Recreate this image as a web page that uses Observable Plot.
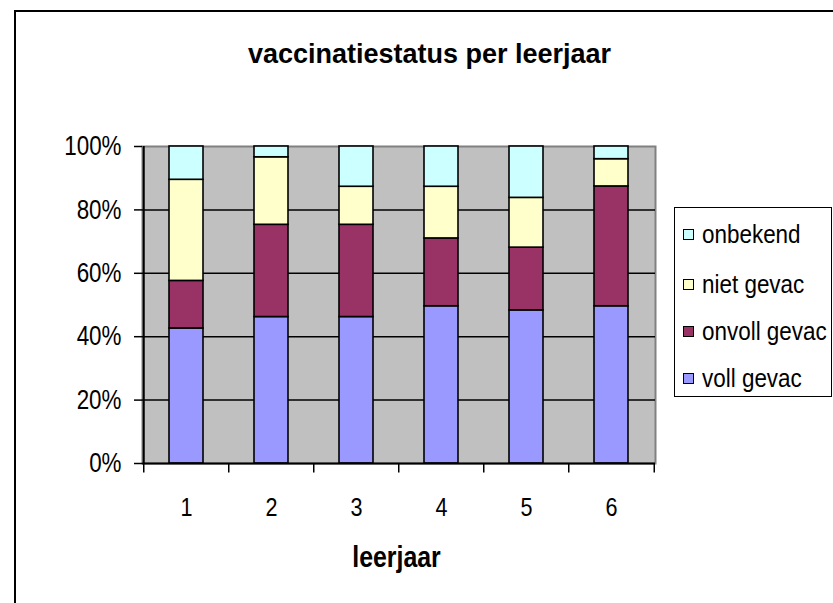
<!DOCTYPE html>
<html>
<head>
<meta charset="utf-8">
<script src="https://cdn.jsdelivr.net/npm/d3@7"></script>
<script src="https://cdn.jsdelivr.net/npm/@observablehq/plot@0.6"></script>
<style>
  html, body { margin: 0; padding: 0; background: #fff; }
  #wrap { position: relative; width: 833px; height: 603px; overflow: hidden; font-family: "Liberation Sans", Arial, sans-serif; }
  #outer { position: absolute; left: 14px; top: 10px; width: 2000px; height: 2000px; border-left: 2px solid #000; border-top: 2px solid #000; box-sizing: border-box; }
  #chart { position: absolute; left: 0; top: 0; }
  #legend { position: absolute; left: 674px; top: 207px; width: 158px; height: 190px; border: 1.5px solid #000; background: #fff; box-sizing: border-box; }
  .item { position: absolute; left: 8px; height: 30px; display: flex; align-items: center; }
  .sw { width: 11px; height: 11px; border: 1px solid #000; box-sizing: border-box; margin-right: 8px; flex: none; }
  .lab { font-size: 25.5px; color: #000; white-space: nowrap; display: inline-block; transform: scaleX(0.88); transform-origin: left center; }
</style>
</head>
<body>
<div id="wrap">
  <div id="outer"></div>
  <div id="chart"></div>
  <div id="legend"></div>
</div>
<script>
const title = "vaccinatiestatus per leerjaar";
const xLabel = "leerjaar";
const years = ["1", "2", "3", "4", "5", "6"];
const series = ["voll gevac", "onvoll gevac", "niet gevac", "onbekend"];
const colors = ["#9999FF", "#993366", "#FFFFCC", "#CCFFFF"];
const vollGevac   = [42.6, 46.2, 46.2, 49.6, 48.3, 49.6];
const onvollGevac = [15.0, 29.1, 29.1, 21.4, 19.8, 37.8];
const nietGevac   = [31.9, 21.3, 12.0, 16.3, 15.7, 8.6];
const onbekend    = [10.5, 3.4, 12.7, 12.7, 16.2, 4.0];
const yTicks = [0, 0.2, 0.4, 0.6, 0.8, 1];
const gridLines = [0.2, 0.4, 0.6, 0.8];

const valuesBySeries = [vollGevac, onvollGevac, nietGevac, onbekend];
const data = [];
years.forEach((y, i) => {
  series.forEach((s, j) => data.push({year: y, series: s, value: valuesBySeries[j][i]}));
});

const W = 833, H = 603;
const mL = 142, mR = 178, mT = 146, mB = 140;
const step = (W - mL - mR) / years.length;

const chart = Plot.plot({
  width: W,
  height: H,
  marginLeft: mL,
  marginRight: mR,
  marginTop: mT,
  marginBottom: mB,
  style: {fontFamily: "Liberation Sans, Arial, sans-serif", background: "transparent", overflow: "visible", color: "#000"},
  x: {domain: years, paddingInner: 0.6, paddingOuter: 0.3, label: null},
  y: {domain: [0, 1], label: null},
  color: {domain: series, range: colors},
  marks: [
    Plot.frame({fill: "#C0C0C0", stroke: "#808080", strokeWidth: 2}),
    Plot.ruleY(gridLines, {stroke: "#000", strokeWidth: 1.5}),
    Plot.barY(data, Plot.stackY({
      x: "year", y: "value", fill: "series", offset: "normalize", order: series,
      stroke: "#000", strokeWidth: 1.6
    })),
    Plot.ruleY([0], {stroke: "#000", strokeWidth: 2}),
    Plot.ruleX([years[0]], {x: d => d, dx: -step / 2, y1: 0, y2: 1, stroke: "#000", strokeWidth: 2}),
    Plot.ruleX(years, {x: d => d, dx: -step / 2, y1: 0, y2: -0.03, stroke: "#000", strokeWidth: 1.5}),
    Plot.ruleX([years[years.length - 1]], {x: d => d, dx: step / 2, y1: 0, y2: -0.03, stroke: "#000", strokeWidth: 1.5}),
    Plot.axisY({ticks: yTicks, tickFormat: d3.format(".0%"), tickSize: 8, tickPadding: 13, fontSize: 27, strokeWidth: 1.5}),
    Plot.axisX({tickSize: 0, tickPadding: 34, fontSize: 26}),
    Plot.text([xLabel], {frameAnchor: "bottom", dx: -2.5, dy: 94, fontSize: 30, fontWeight: "bold", lineAnchor: "middle"}),
    Plot.text([title], {frameAnchor: "top", dx: 30.5, dy: -92.3, fontSize: 27, fontWeight: "bold", lineAnchor: "middle"})
  ]
});

// horizontally condense the text like the reference
chart.querySelectorAll("text").forEach(t => {
  if (t.textContent === title) return;
  const s = 0.83;
  const x = +(t.getAttribute("x") || 0);
  const tr = t.getAttribute("transform") || "";
  t.setAttribute("transform", `${tr} translate(${x},0) scale(${s},1) translate(${-x},0)`);
});

document.getElementById("chart").appendChild(chart);

// legend (top to bottom: reverse of stacking order)
const legend = document.getElementById("legend");
const rowCenters = [26, 76, 123, 170];
series.slice().reverse().forEach((s, k) => {
  const idx = series.indexOf(s);
  const item = document.createElement("div");
  item.className = "item";
  item.style.top = (rowCenters[k] - 15) + "px";
  item.innerHTML = `<span class="sw" style="background:${colors[idx]}"></span><span class="lab">${s}</span>`;
  legend.appendChild(item);
});
</script>
</body>
</html>
